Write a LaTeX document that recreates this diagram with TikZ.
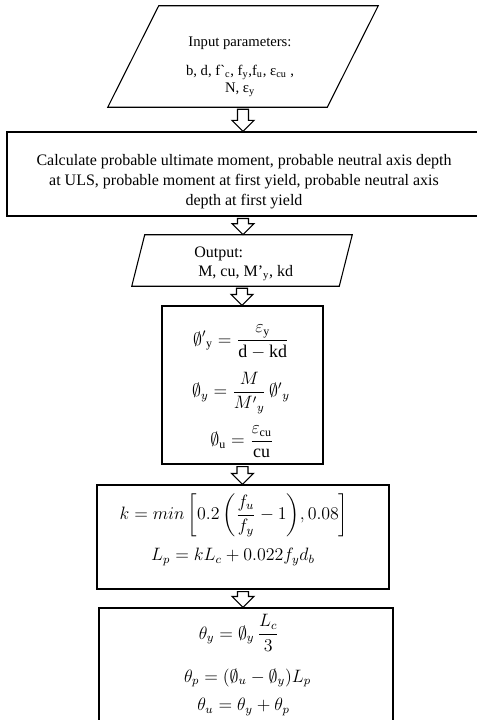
\documentclass[tikz,border=0pt,12pt]{standalone}
\usepackage{amsmath}
\usepackage{amssymb}
\usepackage{graphicx}
\usepackage{fontspec}
\setmainfont{Liberation Serif}
\usetikzlibrary{calc}

% hollow block arrow from one node down to the next
\newcommand{\fatarrow}[2]{%
  \path (#1.south) coordinate (fa-top) (#1.south |- #2.north) coordinate (fa-tip);
  \draw[hollow] ($(fa-top)+(-5.5,2)$) -- ($(fa-tip)+(-5.5,-11)$) -- ($(fa-tip)+(-11,-11)$) -- (fa-tip)
    -- ($(fa-tip)+(11,-11)$) -- ($(fa-tip)+(5.5,-11)$) -- ($(fa-top)+(5.5,2)$) -- cycle;}
% slanted outline round a (bounding) node
\newcommand{\slantbox}[2]{%
  \draw[line width=0.8pt] ($(#1.north west)+(#2,0)$) -- (#1.north east)
    -- ($(#1.south east)+(-#2,0)$) -- (#1.south west) -- cycle;}
% formulas a bit larger than the text
\newcommand{\eqn}[1]{\scalebox{1.12}{$\displaystyle #1$}}

\begin{document}
\begin{tikzpicture}[
    x=0.75pt, y=-0.75pt,
    box/.style={draw, line width=0.8pt, inner sep=0pt},
    para/.style={inner sep=0pt},
    hollow/.style={draw, fill=white, line width=0.8pt, line join=miter},
    eq/.style={inner sep=0pt},
    txt/.style={inner sep=0pt, align=center, font=\fontsize{12}{15}\selectfont},
]
\useasboundingbox (0,0) rectangle (477,720);

% Input parameters
\node[para, minimum width=202.5pt, minimum height=75.75pt] (input) at (243, 56.5) {};
\slantbox{input}{51}
\node[txt, font=\fontsize{11}{12.6}\selectfont] (input-txt) at (240, 67)
    {Input parameters:\\[9pt] b, d, f\textasciigrave\textsubscript{c}, f\textsubscript{y},f\textsubscript{u}, ε\textsubscript{cu} ,\\ N, ε\textsubscript{y}};

% Moments and neutral axis depths
\node[box, minimum width=354pt, minimum height=63pt] (calc) at (243, 174) {};
\node[txt] (calc-txt) at (244, 182)
    {Calculate probable ultimate moment, probable neutral axis depth\\ at ULS, probable moment at first yield, probable neutral axis\\ depth at first yield};

% Output
\node[para, minimum width=165pt, minimum height=38.25pt] (output) at (242, 260.5) {};
\slantbox{output}{13}
\node[txt, align=left, anchor=west, font=\fontsize{12}{13.8}\selectfont] (output-txt) at (194, 264)
    {Output:\\ \ M, cu, M’\textsubscript{y}, kd};

% Curvatures
\node[box, minimum width=120.75pt, minimum height=118.5pt] (phi) at (242.5, 385) {};
\node[eq] (phi-a) at (241, 342) {\eqn{{\emptyset'}_{\mathrm{y}} = \frac{\varepsilon_{\mathrm{y}}}{\mathrm{d}-\mathrm{kd}}}};
\node[eq] (phi-b) at (241, 393) {\eqn{\emptyset_{y} = \frac{M}{{M'}_{y}}\,{\emptyset'}_{y}}};
\node[eq] (phi-c) at (242, 442) {\eqn{\emptyset_{\mathrm{u}} = \frac{\varepsilon_{\mathrm{cu}}}{\mathrm{cu}}}};

% Plastic hinge length
\node[box, minimum width=219pt, minimum height=78pt] (kbox) at (243, 537) {};
\node[eq] (k-a) at (234, 515) {\eqn{k = min\left[0.2\left(\frac{f_u}{f_y}-1\right)\!, 0.08\right]}};
\node[eq] (k-b) at (233, 557) {\eqn{L_p = kL_c + 0.022f_yd_b}};

% Rotations
\node[box, minimum width=220.5pt, minimum height=99pt] (theta) at (246, 674) {};
\node[eq] (theta-a) at (239, 633) {\eqn{\theta_y = \emptyset_y\,\frac{L_c}{3}}};
\node[eq] (theta-b) at (247.5, 678) {\eqn{\theta_p = (\emptyset_u - \emptyset_y)L_p}};
\node[eq] (theta-c) at (243.5, 707) {\eqn{\theta_u = \theta_y + \theta_p}};

% Flow
\fatarrow{input}{calc}
\fatarrow{calc}{output}
\fatarrow{output}{phi}
\fatarrow{phi}{kbox}
\fatarrow{kbox}{theta}

\end{tikzpicture}
\end{document}
